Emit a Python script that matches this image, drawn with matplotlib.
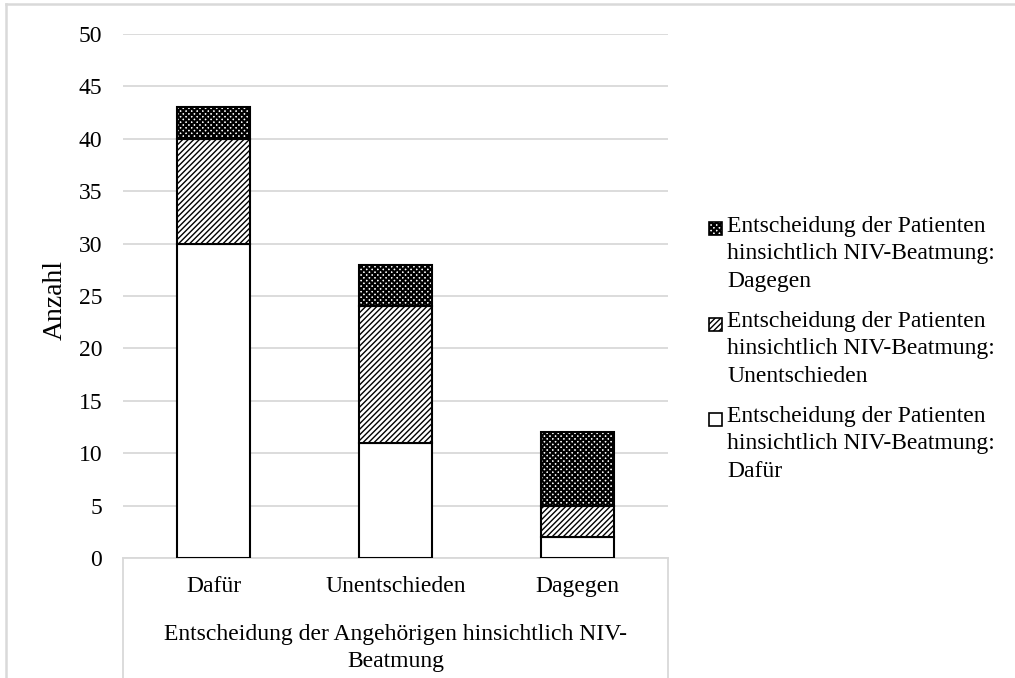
import matplotlib
matplotlib.use("Agg")
import matplotlib.pyplot as plt
from matplotlib.lines import Line2D
from matplotlib.patches import Rectangle

plt.rcParams["font.family"] = ["Liberation Serif", "DejaVu Serif"]
plt.rcParams["hatch.linewidth"] = 1.0

# ── Data ──────────────────────────────────────────────────────────────────────
categories = ["Dafür", "Unentschieden", "Dagegen"]
patient_dafuer        = [30, 11, 2]
patient_unentschieden = [10, 13, 3]
patient_dagegen       = [3, 4, 7]

series_labels = [
    "Entscheidung der Patienten\nhinsichtlich NIV-Beatmung:\nDafür",
    "Entscheidung der Patienten\nhinsichtlich NIV-Beatmung:\nUnentschieden",
    "Entscheidung der Patienten\nhinsichtlich NIV-Beatmung:\nDagegen",
]
x_title = "Entscheidung der Angehörigen hinsichtlich NIV-\nBeatmung"
y_title = "Anzahl"

GRID = "#d9d9d9"
FS = 17
W, H = 1015, 678

fig = plt.figure(figsize=(W / 100, H / 100), dpi=100)
ax = fig.add_axes([123 / W, 1 - 558 / H, (668 - 123) / W, (558 - 34) / H])

x = range(len(categories))
bottom2 = [a + b for a, b in zip(patient_dafuer, patient_unentschieden)]
hatches = ["", "//////", "xxxxxx"]
hatch_lw = [1.0, 1.0, 1.6]
stack = [
    (patient_dafuer, [0, 0, 0]),
    (patient_unentschieden, patient_dafuer),
    (patient_dagegen, bottom2),
]
for (vals, bot), h, hl in zip(stack, hatches, hatch_lw):
    bars = ax.bar(x, vals, bottom=bot, width=0.4, color="white", edgecolor="black",
                  linewidth=1.5, hatch=h, zorder=3)
    for b in bars:
        if hasattr(b, "set_hatch_linewidth"):
            b.set_hatch_linewidth(hl)

ax.set_xlim(-0.5, 2.5)
ax.set_ylim(0, 50)
ax.set_yticks(range(0, 51, 5))
ax.set_xticks(list(x))
ax.set_xticklabels(categories)
ax.tick_params(axis="both", length=0, labelsize=FS)
ax.tick_params(axis="y", pad=15)
ax.tick_params(axis="x", pad=13)
ax.grid(axis="y", color=GRID, linewidth=1.3, zorder=0)
for s in ["top", "right", "left"]:
    ax.spines[s].set_visible(False)
ax.spines["bottom"].set_color(GRID)
ax.spines["bottom"].set_linewidth(1.3)

# axis titles
fig.text(395.5 / W, 1 - 648 / H, x_title, ha="center", va="center",
         fontsize=FS, linespacing=1.35)
fig.text(55 / W, 1 - 300 / H, y_title, ha="center", va="center",
         rotation=90, fontsize=20)

# box lines around the category axis area and the chart border
for xx in (123, 668):
    fig.add_artist(Line2D([xx / W, xx / W], [0, 1 - 558 / H], color=GRID, lw=1.3))
fig.add_artist(Line2D([6 / W, 6 / W], [0, 1 - 4 / H], color=GRID, lw=1.8))
fig.add_artist(Line2D([6 / W, 1], [1 - 4 / H, 1 - 4 / H], color=GRID, lw=1.8))

# legend, reverse order, marker aligned with the first text line
legend_top = 216   # px from top of first entry
entry_pitch = 95
for i, idx in enumerate([2, 1, 0]):
    ytop = legend_top + i * entry_pitch
    yc = ytop + 13
    sq = Rectangle((709 / W, 1 - (yc + 6.5) / H), 13 / W, 13 / H,
                   transform=fig.transFigure, facecolor="white",
                   edgecolor="black", linewidth=1.2, hatch=hatches[idx])
    if hasattr(sq, "set_hatch_linewidth"):
        sq.set_hatch_linewidth(hatch_lw[idx])
    fig.add_artist(sq)
    fig.text(727 / W, 1 - ytop / H, series_labels[idx], ha="left", va="top",
             fontsize=FS, linespacing=1.4)

fig.savefig("out.png", dpi=100)
